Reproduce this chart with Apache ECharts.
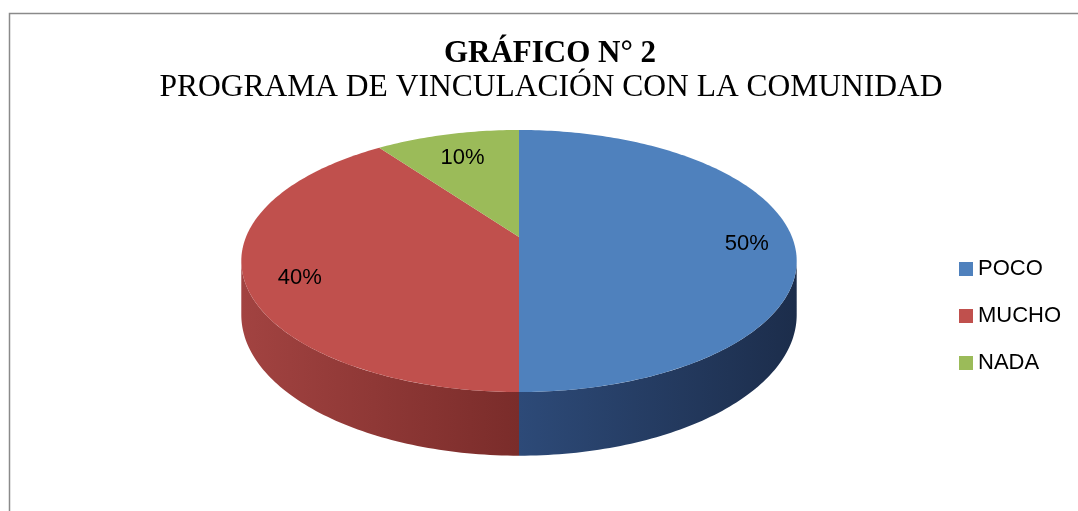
<!DOCTYPE html>
<html>
<head>
<meta charset="utf-8">
<script src="https://cdn.jsdelivr.net/npm/echarts@6/dist/echarts.min.js"></script>
<style>
html, body { margin: 0; padding: 0; background: #fff; }
#main { width: 1078px; height: 511px; }
</style>
</head>
<body>
<div id="main"></div>
<script>
var categories = ['POCO', 'MUCHO', 'NADA'];
var values = [50, 40, 10];

var topColors = ['#4F81BD', '#C0504D', '#9BBB59'];
var wallColors = [['#2d4a78', '#1c2d4b'], ['#a24341', '#7a2c2a'], ['#7a9446', '#5e7236']];

// perspective projection of the pie disc
var CX = 519, CY = 237, RX = 273, PA = 83.2, PC = -0.1832, DEPTH = 52;
var SIL = Math.acos(PC); // angle where the outer wall turns away

function proj(theta, r, drop) {
    var u = r * Math.sin(theta), v = -r * Math.cos(theta);
    var w = 1 + PC * v;
    return [CX + RX * u / w, (PA * v + CY) / w + (drop || 0) * DEPTH / w];
}

function arcPoints(a0, a1, r, drop) {
    var pts = [];
    var n = Math.max(2, Math.ceil(Math.abs(a1 - a0) / (Math.PI / 180)));
    for (var k = 0; k <= n; k++) {
        pts.push(proj(a0 + (a1 - a0) * k / n, r, drop));
    }
    return pts;
}

var total = values.reduce(function (s, v) { return s + v; }, 0);

function makeSeries(i) {
    var before = 0;
    for (var j = 0; j < i; j++) before += values[j];
    return {
        type: 'custom',
        name: categories[i],
        coordinateSystem: 'none',
        itemStyle: { color: topColors[i] },
        data: [values[i]],
        renderItem: function (params, api) {
            var val = api.value(0);
            var a0 = before / total * Math.PI * 2;
            var a1 = (before + val) / total * Math.PI * 2;
            var children = [];
            // outer wall (front part only)
            var w0 = Math.max(a0, SIL), w1 = Math.min(a1, Math.PI * 2 - SIL);
            if (w1 > w0) {
                var topArc = arcPoints(w0, w1, 1, 0);
                var botArc = arcPoints(w1, w0, 1, 1);
                children.push({
                    type: 'polygon',
                    z2: 1,
                    shape: { points: topArc.concat(botArc) },
                    style: {
                        fill: new echarts.graphic.LinearGradient(0, 0, 1, 0, [
                            { offset: 0, color: wallColors[i][0] },
                            { offset: 1, color: wallColors[i][1] }
                        ])
                    }
                });
            }
            // top face
            children.push({
                type: 'polygon',
                z2: 5,
                shape: { points: [proj(0, 0, 0)].concat(arcPoints(a0, a1, 1, 0)) },
                style: { fill: topColors[i] }
            });
            // percentage label
            var mid = (a0 + a1) / 2;
            var lp = proj(mid, 0.82, 0);
            children.push({
                type: 'text',
                z2: 10,
                x: lp[0] + 4,
                y: lp[1] + 7,
                style: {
                    text: Math.round(val / total * 100) + '%',
                    fill: '#000',
                    font: '22px "Liberation Sans", Arial, sans-serif',
                    align: 'center',
                    verticalAlign: 'middle'
                }
            });
            return { type: 'group', children: children };
        }
    };
}

var myChart = echarts.init(document.getElementById('main'));
var option = {
    animation: false,
    backgroundColor: '#fff',
    graphic: [
        {
            type: 'rect',
            shape: { x: 9.5, y: 13.5, width: 1200, height: 700 },
            style: { fill: 'none', stroke: '#8a8a8a', lineWidth: 1.5 }
        },
        {
            type: 'text',
            x: 550, y: 54,
            style: {
                text: 'GRÁFICO N° 2',
                fill: '#000',
                font: 'bold 31px "Liberation Serif", "Times New Roman", serif',
                align: 'center',
                verticalAlign: 'middle'
            }
        },
        {
            type: 'text',
            x: 551, y: 88,
            style: {
                text: 'PROGRAMA DE VINCULACIÓN CON LA COMUNIDAD',
                fill: '#000',
                font: '31.5px "Liberation Serif", "Times New Roman", serif',
                align: 'center',
                verticalAlign: 'middle'
            }
        }
    ],
    legend: {
        orient: 'vertical',
        left: 954,
        top: 253,
        icon: 'rect',
        itemWidth: 14,
        itemHeight: 14,
        itemGap: 25,
        selectedMode: false,
        data: categories,
        textStyle: {
            fontSize: 22,
            color: '#000',
            fontFamily: '"Liberation Sans", Arial, sans-serif'
        }
    },
    series: categories.map(function (c, i) { return makeSeries(i); })
};
myChart.setOption(option);
</script>
</body>
</html>
